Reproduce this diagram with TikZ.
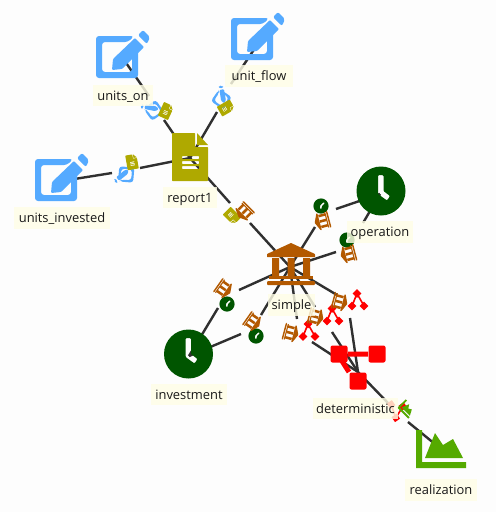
\documentclass[tikz,border=0pt]{standalone}
\usepackage{fontspec}
\setmainfont{Open Sans}
\usetikzlibrary{calc}
\definecolor{bgc}{HTML}{FDFDFD}
\definecolor{blu}{HTML}{55AAFF}
\definecolor{oli}{HTML}{AFA900}
\definecolor{brn}{HTML}{B35900}
\definecolor{grn}{HTML}{005500}
\definecolor{rd}{HTML}{FF0000}
\definecolor{lime}{HTML}{55AA00}
\definecolor{lin}{HTML}{303030}
\tikzset{
 x=1pt,y=-1pt,
 lab/.style={fill=yellow!10,fill opacity=.82,text opacity=1,text=black!90,font=\fontsize{12.9}{15}\selectfont,inner sep=0pt,text height=10pt,text depth=1pt,minimum height=21.5pt},
 cn/.style={draw=lin,line width=2.4pt},
 pics/editicon/.style={code={
  \fill[blu,rounded corners=3pt] (-27,-19) -- (11,-19) -- (5,-13) -- (-21,-13) -- (-21,17) -- (9,17) -- (9,-3) -- (15,-9) -- (15,23) -- (-27,23) -- cycle;
  \fill[blu,rounded corners=1pt] (-11,15) -- (-10,4) -- (12,-17) -- (21,-8) -- (-1,14) -- cycle;
  \fill[blu,rounded corners=2pt] (15,-20) -- (20,-25) -- (27,-18) -- (24,-11) -- cycle;
 }},
 pics/docicon/.style={code={
  \fill[oli,even odd rule,rounded corners=.6pt] (-18,-24) -- (5,-24) -- (5,-10) -- (18,-10) -- (18,24) -- (-18,24) -- cycle
    (-8,-1) rectangle (9,2) (-8,4) rectangle (9,7) (-8,9) rectangle (9,12);
  \fill[oli] (7,-24) -- (18,-12) -- (7,-12) -- cycle;
 }},
 pics/museumicon/.style={code={
  \fill[brn,rounded corners=.5pt] (-24,-7) -- (-24,-10) -- (0,-21) -- (24,-10) -- (24,-7) -- cycle;
  \fill[brn] (-19,-6) rectangle (-12,13) (-3.5,-6) rectangle (3.5,13) (12,-6) rectangle (19,13);
  \fill[brn] (-22,12) rectangle (22,15);
  \fill[brn,rounded corners=1pt] (-24,17) rectangle (24,21);
 }},
 pics/clockicon/.style={code={
  \fill[grn,even odd rule] (0,0) circle (24.5)
   [rounded corners=1pt] (-3,-16) -- (2.5,-16) -- (2.5,0) -- (9,5) -- (6,9.5) -- (-3,3) -- cycle;
 }},
 pics/treeicon/.style={code={
  \fill[rd,rounded corners=2pt] (-27.5,-21.5) rectangle (-10.5,-4.5) (10.5,-21.5) rectangle (27.5,-4.5) (-8.5,5.5) rectangle (8.5,22.5);
  \draw[rd,line width=5pt] (-10,-13) -- (10,-13) (-16,-6) -- (-9,5);
 }},
 pics/minitree/.style={code={
  \draw[rd,line width=1.6pt] (-5,5.5) -- (0,-7) -- (7,5.5);
  \fill[rd] (-5,5.5) +(-4.3,0) -- +(0,-4.3) -- +(4.3,0) -- +(0,4.3) -- cycle;
  \fill[rd] (0,-7) +(-4.3,0) -- +(0,-4.3) -- +(4.3,0) -- +(0,4.3) -- cycle;
  \fill[rd] (7,5.5) +(-4.3,0) -- +(0,-4.3) -- +(4.3,0) -- +(0,4.3) -- cycle;
 }},
 pics/charticon/.style={code={
  \fill[lime] (-25,-19) rectangle (-19,19) (-25,13) rectangle (25,19);
  \fill[lime] (-16,9) -- (-6,-16) -- (2,-4) -- (12,-10) -- (22,9) -- cycle;
 }},
}
\newcommand{\mini}[3]{\pic[transform shape,scale=.31,rotate=#2] at (#1) {#3};}
\newcommand{\minib}[3]{\pic[transform shape,scale=.36,rotate=#2] at (#1) {#3};}
\begin{document}
\begin{tikzpicture}[every pic/.style={transform shape}]
\useasboundingbox (0,0) rectangle (496,512);
\fill[bgc] (0,0) rectangle (496,512);
% connection ends
\coordinate (eOn) at (122,57);
\coordinate (eFlow) at (259,42);
\coordinate (eInv) at (62,181);
\coordinate (eRep) at (190,158);
\coordinate (eSim) at (290,267);
\coordinate (eOp) at (380,194);
\coordinate (eIn) at (189,356);
\coordinate (eDet) at (358,372);
\coordinate (eRea) at (441,449);
% connectors
\draw[cn] (eOn) -- (149,96) (164,120) -- (eRep);
\draw[cn] (eFlow) -- (231,84) (217,112) -- (eRep);
\draw[cn] (eInv) -- (112,173) (140,168) -- (eRep);
\draw[cn] (eRep) -- (230,203) (250,223) -- (eSim);
\draw[cn] (eOp) -- (336,209) (315,227) -- (eSim);
\draw[cn] (eOp) -- (363,223) (336,252) -- (eSim);
\draw[cn] (eIn) -- (218,308) (239,290) -- (eSim);
\draw[cn] (eIn) -- (241,334) (261,315) -- (eSim);
\draw[cn] (eSim) -- (297,319) (312,342) -- (eDet);
\draw[cn] (eSim) -- (315,307) (332,332) -- (eDet);
\draw[cn] (eSim) -- (337,295) (350,318) -- (eDet);
\draw[cn] (eDet) -- (388,403) (408,422) -- (eRea);
% big icons
\pic at (123,55) {editicon};
\pic at (258,37) {editicon};
\pic at (62,178) {editicon};
\pic at (190,157) {docicon};
\pic at (291,264) {museumicon};
\pic at (381,191) {clockicon};
\pic at (188.5,354) {clockicon};
\pic at (358,367) {treeicon};
\pic at (441,449) {charticon};
% mini icons
\minib{152,109}{125}{editicon}
\mini{166,111}{-25}{docicon}
\minib{222,97}{55}{editicon}
\mini{226,108}{-60}{docicon}
\minib{124,175}{175}{editicon}
\mini{132,162}{10}{docicon}
\mini{232,216}{-135}{docicon}
\minib{244,212}{135}{museumicon}
\mini{321,206}{-45}{clockicon}
\minib{322,221}{105}{museumicon}
\mini{347,240}{-45}{clockicon}
\minib{348,254}{105}{museumicon}
\mini{227,304}{-45}{clockicon}
\minib{224,289}{-125}{museumicon}
\mini{256,336}{-45}{clockicon}
\minib{253,322}{-125}{museumicon}
\minib{291,333}{-105}{museumicon}
\pic at (308,331) {minitree};
\minib{316,317}{-105}{museumicon}
\pic at (332,315.5) {minitree};
\minib{340,302}{-105}{museumicon}
\pic at (357,300.5) {minitree};
\pic[rotate=170] at (397,411) {minitree};
\mini{407,409}{-45}{charticon}
% labels
\node[lab,minimum width=60pt] (units_on) at (123,95.5) {units\_on};
\node[lab,minimum width=68pt] (unit_flow) at (259,76) {unit\_flow};
\node[lab,minimum width=96pt] (units_invested) at (62,218) {units\_invested};
\node[lab,minimum width=54pt] (report1) at (190,197.5) {report1};
\node[lab,minimum width=47pt] (simple) at (291.5,305) {simple};
\node[lab,minimum width=66pt] (operation) at (380,232) {operation};
\node[lab,minimum width=76pt] (investment) at (189,394.5) {investment};
\node[lab,minimum width=85pt] (deterministic) at (355.5,408.5) {deterministic};
\node[lab,minimum width=72pt] (realization) at (441,490) {realization};
\end{tikzpicture}
\end{document}
